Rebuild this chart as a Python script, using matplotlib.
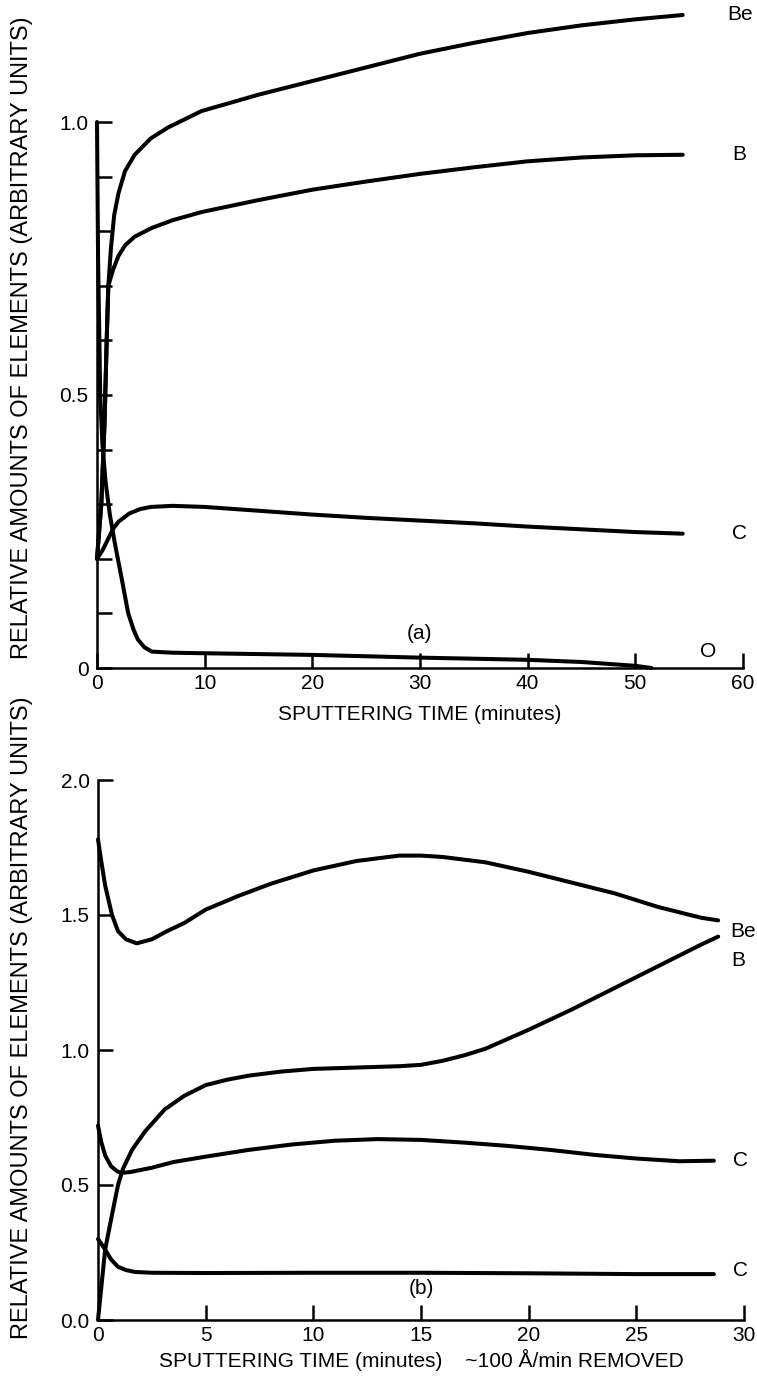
import matplotlib
matplotlib.use("Agg")
import matplotlib.pyplot as plt

plt.rcParams["font.family"] = ["Liberation Sans", "DejaVu Sans"]

# ── Panel (a): sputtering time 0-60 min ─────────────────────────
a_O_t = [0, 0.1, 0.3, 0.5, 0.8, 1.2, 1.7, 2.3, 2.9, 3.4, 3.8, 4.4, 5.1, 7, 10, 20, 30, 40, 45, 50, 51.5]
a_O_v = [1.0, 0.75, 0.5, 0.41, 0.34, 0.28, 0.224, 0.163, 0.10, 0.07, 0.052, 0.038, 0.03, 0.028, 0.027,
         0.024, 0.019, 0.015, 0.011, 0.004, 0.0]

a_Be_t = [0, 0.4, 0.7, 0.9, 1.05, 1.3, 1.6, 2.0, 2.6, 3.5, 5.0, 6.6, 9.7, 15, 20, 25, 30, 35, 40, 45, 50, 54.4]
a_Be_v = [0.20, 0.30, 0.45, 0.60, 0.70, 0.77, 0.83, 0.87, 0.91, 0.94, 0.97, 0.99, 1.02, 1.05, 1.075, 1.10,
          1.125, 1.145, 1.163, 1.177, 1.188, 1.196]

a_B_t = [0, 0.4, 0.7, 0.9, 1.05, 1.5, 2.0, 2.6, 3.5, 5.1, 7, 9.7, 15, 20, 25, 30, 35, 40, 45, 50, 54.4]
a_B_v = [0.20, 0.30, 0.45, 0.60, 0.70, 0.73, 0.755, 0.774, 0.79, 0.806, 0.82, 0.835, 0.857, 0.876, 0.891,
         0.905, 0.917, 0.928, 0.935, 0.939, 0.94]

a_C_t = [0, 0.5, 1.0, 1.5, 2.0, 3.0, 4.0, 5.0, 7, 10, 15, 20, 25, 30, 35, 40, 45, 50, 54.4]
a_C_v = [0.20, 0.215, 0.235, 0.255, 0.268, 0.283, 0.291, 0.295, 0.297, 0.295, 0.288, 0.281, 0.275, 0.27,
         0.265, 0.259, 0.254, 0.249, 0.246]

a_xticks = [0, 10, 20, 30, 40, 50, 60]
a_yticks = [0, 0.1, 0.2, 0.3, 0.4, 0.5, 0.6, 0.7, 0.8, 0.9, 1.0]
a_ylabels = ["0", "", "", "", "", "0.5", "", "", "", "", "1.0"]

# ── Panel (b): sputtering time 0-30 min ─────────────────────────
b_Be_t = [0, 0.15, 0.33, 0.65, 0.93, 1.3, 1.8, 2.5, 3.2, 4.0, 5.0, 6.5, 8, 10, 12, 14, 15, 16, 18, 20, 22,
          24, 26, 28, 28.8]
b_Be_v = [1.78, 1.70, 1.61, 1.50, 1.44, 1.41, 1.395, 1.41, 1.44, 1.47, 1.52, 1.57, 1.615, 1.665, 1.70,
          1.72, 1.72, 1.715, 1.695, 1.66, 1.62, 1.58, 1.53, 1.49, 1.48]

b_B_t = [0, 0.33, 0.65, 0.93, 1.16, 1.58, 2.2, 3.1, 4.0, 5.0, 6, 7, 8.5, 10, 12, 14, 15, 16, 17, 18, 20,
         22, 24, 26, 28, 28.8]
b_B_v = [0.0, 0.26, 0.39, 0.50, 0.56, 0.63, 0.70, 0.78, 0.83, 0.87, 0.89, 0.905, 0.92, 0.93, 0.935, 0.94,
         0.945, 0.96, 0.98, 1.005, 1.075, 1.15, 1.23, 1.31, 1.39, 1.42]

b_C1_t = [0, 0.15, 0.33, 0.6, 0.9, 1.1, 1.5, 2.5, 3.5, 5, 7, 9, 11, 13, 15, 17, 19, 21, 23, 25, 27, 28.6]
b_C1_v = [0.72, 0.66, 0.61, 0.57, 0.55, 0.545, 0.548, 0.564, 0.585, 0.605, 0.63, 0.65, 0.664, 0.67,
          0.667, 0.657, 0.645, 0.63, 0.612, 0.598, 0.588, 0.59]

b_C2_t = [0, 0.3, 0.6, 0.93, 1.3, 1.7, 2.5, 5, 10, 15, 20, 25, 28.6]
b_C2_v = [0.30, 0.265, 0.225, 0.197, 0.185, 0.178, 0.175, 0.174, 0.175, 0.175, 0.173, 0.17, 0.17]

b_xticks = [0, 5, 10, 15, 20, 25, 30]
b_yticks = [0.0, 0.5, 1.0, 1.5, 2.0]
b_ylabels = ["0.0", "0.5", "1.0", "1.5", "2.0"]

YLABEL = "RELATIVE AMOUNTS OF ELEMENTS (ARBITRARY UNITS)"
LW = 2.9
FS = 15

fig = plt.figure(figsize=(7.57, 13.77), dpi=100)
W, H = 757, 1377

ax_a = fig.add_axes([97 / W, (H - 668) / H, 646 / W, 668 / H])
ax_b = fig.add_axes([98 / W, (H - 1320) / H, 646 / W, 553.5 / H])


def style(ax):
    for s in ["top", "right"]:
        ax.spines[s].set_visible(False)
    for s in ["left", "bottom"]:
        ax.spines[s].set_linewidth(1.8)
    ax.tick_params(direction="in", length=11, width=1.8, labelsize=FS, pad=6)
    ax.tick_params(axis="x", pad=4)


# panel (a)
for t, v in [(a_O_t, a_O_v), (a_Be_t, a_Be_v), (a_B_t, a_B_v), (a_C_t, a_C_v)]:
    ax_a.plot(t, v, color="black", lw=LW, solid_capstyle="round", solid_joinstyle="round", clip_on=False)
ax_a.set_xlim(0, 60)
ax_a.set_ylim(0, 668 / 546)
ax_a.spines["left"].set_bounds(0, 1.0)
ax_a.set_xticks(a_xticks)
ax_a.set_yticks(a_yticks)
ax_a.set_yticklabels(a_ylabels)
style(ax_a)
ax_a.set_xlabel("SPUTTERING TIME (minutes)", fontsize=FS, labelpad=9)
ax_a.text(58.5, 1.196, "Be", fontsize=FS, va="center", ha="left")
ax_a.text(59.0, 0.94, "B", fontsize=FS, va="center", ha="left")
ax_a.text(59.0, 0.246, "C", fontsize=FS, va="center", ha="left")
ax_a.text(56.8, 0.03, "O", fontsize=FS, va="center", ha="center")
ax_a.text(30, 0.064, "(a)", fontsize=FS, va="center", ha="center")

# panel (b)
for t, v in [(b_Be_t, b_Be_v), (b_B_t, b_B_v), (b_C1_t, b_C1_v), (b_C2_t, b_C2_v)]:
    ax_b.plot(t, v, color="black", lw=LW, solid_capstyle="round", solid_joinstyle="round", clip_on=False)
ax_b.set_xlim(0, 30)
ax_b.set_ylim(0, 2.05)
ax_b.spines["left"].set_bounds(0, 2.0)
ax_b.set_xticks(b_xticks)
ax_b.set_yticks(b_yticks)
ax_b.set_yticklabels(b_ylabels)
style(ax_b)
ax_b.set_xlabel("SPUTTERING TIME (minutes)    ~100 Å/min REMOVED", fontsize=FS, labelpad=3)
ax_b.text(29.35, 1.44, "Be", fontsize=FS, va="center", ha="left")
ax_b.text(29.4, 1.33, "B", fontsize=FS, va="center", ha="left")
ax_b.text(29.5, 0.59, "C", fontsize=FS, va="center", ha="left")
ax_b.text(29.5, 0.185, "C", fontsize=FS, va="center", ha="left")
ax_b.text(15, 0.115, "(b)", fontsize=FS, va="center", ha="center")

fig.text(22 / W, 1 - 338 / H, YLABEL, rotation=90, fontsize=17, ha="center", va="center")
fig.text(22 / W, 1 - 1018 / H, YLABEL, rotation=90, fontsize=17, ha="center", va="center")

fig.savefig("out.png", dpi=100)
